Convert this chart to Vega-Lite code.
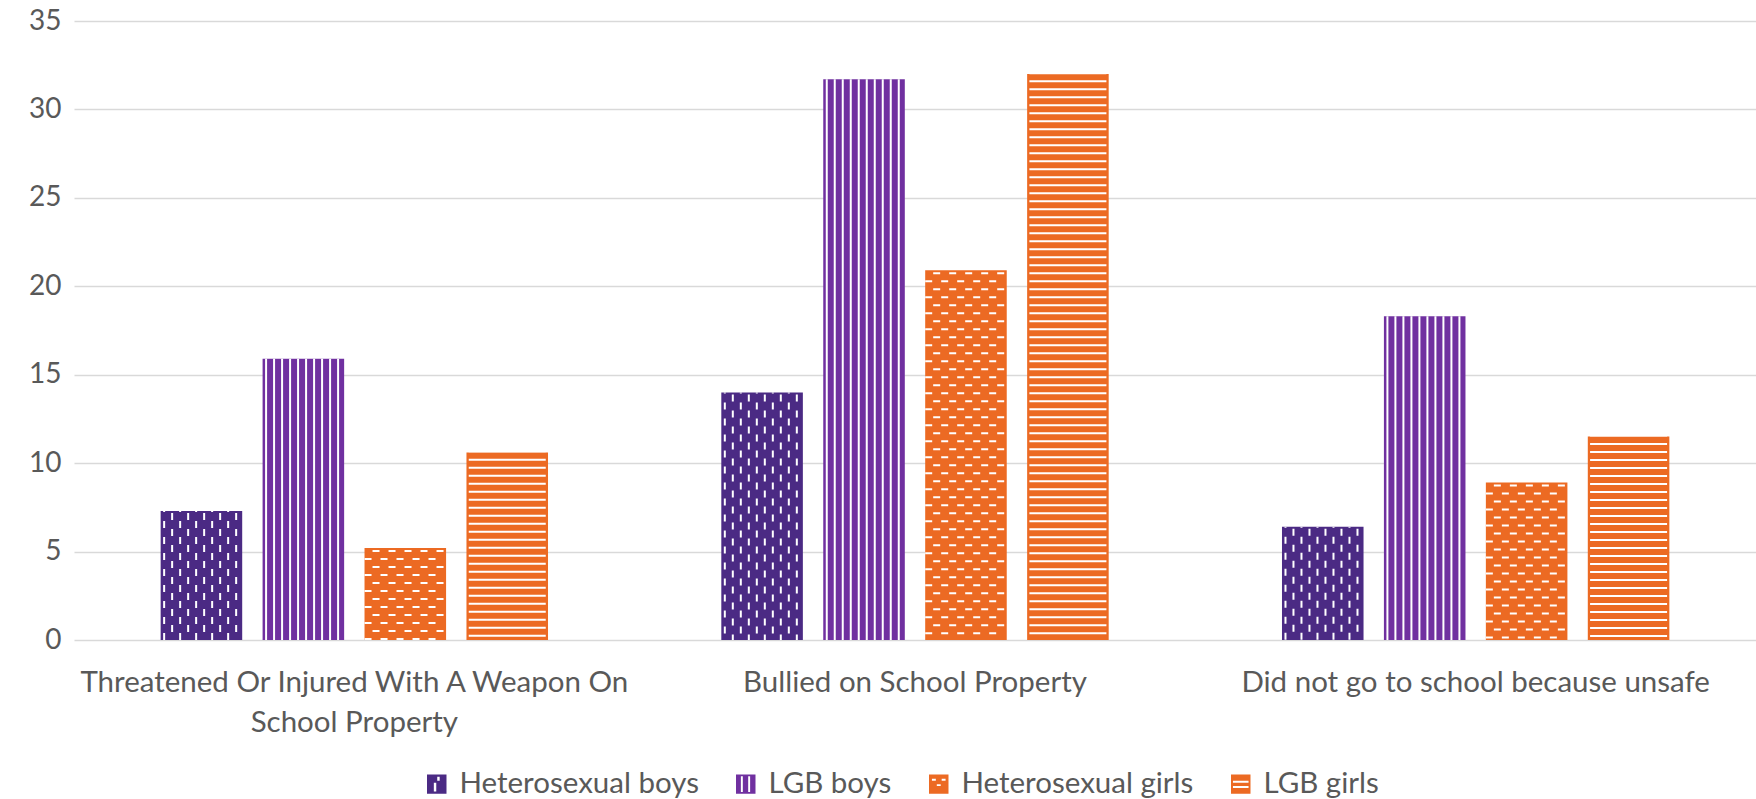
{
  "$schema": "https://vega.github.io/schema/vega-lite/v6.json",
  "width": 1682,
  "height": 619,
  "autosize": {"type": "none"},
  "padding": {"left": 74, "top": 21, "right": 0, "bottom": 159},
  "background": "white",
  "config": {"view": {"stroke": null}, "font": "Lato"},
  "data": {
    "values": [
      {"category": "Threatened Or Injured With A Weapon On School Property", "series": "Heterosexual boys", "value": 7.3},
      {"category": "Threatened Or Injured With A Weapon On School Property", "series": "LGB boys", "value": 15.9},
      {"category": "Threatened Or Injured With A Weapon On School Property", "series": "Heterosexual girls", "value": 5.2},
      {"category": "Threatened Or Injured With A Weapon On School Property", "series": "LGB girls", "value": 10.6},
      {"category": "Bullied on School Property", "series": "Heterosexual boys", "value": 14.0},
      {"category": "Bullied on School Property", "series": "LGB boys", "value": 31.7},
      {"category": "Bullied on School Property", "series": "Heterosexual girls", "value": 20.9},
      {"category": "Bullied on School Property", "series": "LGB girls", "value": 32.0},
      {"category": "Did not go to school because unsafe", "series": "Heterosexual boys", "value": 6.4},
      {"category": "Did not go to school because unsafe", "series": "LGB boys", "value": 18.3},
      {"category": "Did not go to school because unsafe", "series": "Heterosexual girls", "value": 8.9},
      {"category": "Did not go to school because unsafe", "series": "LGB girls", "value": 11.5}
    ]
  },
  "resolve": {"scale": {"xOffset": "independent"}},
  "encoding": {
    "x": {
      "field": "category", "type": "nominal", "sort": null, "title": null,
      "scale": {"paddingInner": 0, "paddingOuter": 0},
      "axis": {
        "orient": "bottom", "domain": false, "ticks": false, "grid": false,
        "labelAngle": 0, "labelFont": "Lato", "labelFontSize": 29.5, "labelColor": "#595959",
        "labelPadding": 28, "labelBaseline": "top", "labelLineHeight": 40, "labelLimit": 0,
        "labelExpr": "datum.value === 'Threatened Or Injured With A Weapon On School Property' ? ['Threatened Or Injured With A Weapon On', 'School Property'] : datum.value"
      }
    },
    "xOffset": {
      "field": "series", "type": "nominal",
      "scale": {"domain": ["Heterosexual boys", "LGB boys", "Heterosexual girls", "LGB girls"], "paddingInner": 0.2, "paddingOuter": 0.85}
    },
    "y": {
      "field": "value", "type": "quantitative", "title": null,
      "scale": {"domain": [0, 35], "nice": false},
      "axis": {
        "domain": false, "ticks": false, "values": [0, 5, 10, 15, 20, 25, 30, 35],
        "gridColor": "#d9d9d9", "gridWidth": 1.5,
        "labelFont": "Lato", "labelFontSize": 28, "labelColor": "#595959", "labelPadding": 13
      }
    }
  },
  "layer": [
    {
      "mark": {"type": "bar", "strokeWidth": 1},
      "encoding": {
        "color": {
          "condition": [
            {"test": "datum.series === 'Heterosexual boys'", "value": "#4b2a84"},
            {"test": "datum.series === 'LGB boys'", "value": "#7030a0"}
          ],
          "value": "#ec6a23"
        }
      }
    },
    {
      "transform": [{"filter": "datum.series === 'LGB girls'"}],
      "mark": {"type": "rule", "color": "white", "strokeWidth": 77, "strokeDash": [2, 6], "strokeDashOffset": 1.7},
      "encoding": {"y2": {"datum": 0}}
    },
    {
      "transform": [{"filter": "datum.series !== 'LGB girls'"}],
      "resolve": {"scale": {"xOffset": "independent"}},
      "encoding": {
        "y2": {"datum": 0},
        "strokeWidth": {"condition": {"test": "datum.series === 'Heterosexual girls'", "value": 7}, "value": 2},
        "strokeDash": {"condition": [{"test": "datum.series === 'Heterosexual girls'", "value": [2, 14]}, {"test": "datum.series === 'Heterosexual boys'", "value": [7, 9]}], "value": [1, 0]}
      },
      "layer": [
        {"mark": {"type": "rule", "color": "white", "strokeDashOffset": 6}, "encoding": {"xOffset": {"field": "series", "type": "nominal", "scale": {"domain": ["Heterosexual boys", "LGB boys", "Heterosexual girls", "LGB girls"], "paddingInner": 0.2, "paddingOuter": 0.85, "align": 0.2849}}}},
        {"mark": {"type": "rule", "color": "white", "strokeDashOffset": 14}, "encoding": {"xOffset": {"field": "series", "type": "nominal", "scale": {"domain": ["Heterosexual boys", "LGB boys", "Heterosexual girls", "LGB girls"], "paddingInner": 0.2, "paddingOuter": 0.85, "align": 0.3310}}}},
        {"mark": {"type": "rule", "color": "white", "strokeDashOffset": 6}, "encoding": {"xOffset": {"field": "series", "type": "nominal", "scale": {"domain": ["Heterosexual boys", "LGB boys", "Heterosexual girls", "LGB girls"], "paddingInner": 0.2, "paddingOuter": 0.85, "align": 0.3772}}}},
        {"mark": {"type": "rule", "color": "white", "strokeDashOffset": 14}, "encoding": {"xOffset": {"field": "series", "type": "nominal", "scale": {"domain": ["Heterosexual boys", "LGB boys", "Heterosexual girls", "LGB girls"], "paddingInner": 0.2, "paddingOuter": 0.85, "align": 0.4234}}}},
        {"mark": {"type": "rule", "color": "white", "strokeDashOffset": 6}, "encoding": {"xOffset": {"field": "series", "type": "nominal", "scale": {"domain": ["Heterosexual boys", "LGB boys", "Heterosexual girls", "LGB girls"], "paddingInner": 0.2, "paddingOuter": 0.85, "align": 0.4695}}}},
        {"mark": {"type": "rule", "color": "white", "strokeDashOffset": 14}, "encoding": {"xOffset": {"field": "series", "type": "nominal", "scale": {"domain": ["Heterosexual boys", "LGB boys", "Heterosexual girls", "LGB girls"], "paddingInner": 0.2, "paddingOuter": 0.85, "align": 0.5157}}}},
        {"mark": {"type": "rule", "color": "white", "strokeDashOffset": 6}, "encoding": {"xOffset": {"field": "series", "type": "nominal", "scale": {"domain": ["Heterosexual boys", "LGB boys", "Heterosexual girls", "LGB girls"], "paddingInner": 0.2, "paddingOuter": 0.85, "align": 0.5619}}}},
        {"mark": {"type": "rule", "color": "white", "strokeDashOffset": 14}, "encoding": {"xOffset": {"field": "series", "type": "nominal", "scale": {"domain": ["Heterosexual boys", "LGB boys", "Heterosexual girls", "LGB girls"], "paddingInner": 0.2, "paddingOuter": 0.85, "align": 0.6080}}}},
        {"mark": {"type": "rule", "color": "white", "strokeDashOffset": 6}, "encoding": {"xOffset": {"field": "series", "type": "nominal", "scale": {"domain": ["Heterosexual boys", "LGB boys", "Heterosexual girls", "LGB girls"], "paddingInner": 0.2, "paddingOuter": 0.85, "align": 0.6542}}}},
        {"mark": {"type": "rule", "color": "white", "strokeDashOffset": 14}, "encoding": {"xOffset": {"field": "series", "type": "nominal", "scale": {"domain": ["Heterosexual boys", "LGB boys", "Heterosexual girls", "LGB girls"], "paddingInner": 0.2, "paddingOuter": 0.85, "align": 0.7004}}}}
      ]
    },
    {
      "mark": {"type": "point", "filled": true, "opacity": 0},
      "encoding": {
        "color": {
          "field": "series", "type": "nominal",
          "scale": {"domain": ["Heterosexual boys", "LGB boys", "Heterosexual girls", "LGB girls"], "range": ["#4b2a84", "#7030a0", "#ec6a23", "#ec6a23"]},
          "legend": {
            "title": null, "orient": "none", "legendX": 348, "legendY": 748, "direction": "horizontal", "columns": 4,
            "columnPadding": 32, "symbolSize": 380, "symbolStrokeWidth": 0, "symbolOpacity": 1, "labelOffset": 8,
            "labelFont": "Lato", "labelFontSize": 29.5, "labelColor": "#595959", "labelLimit": 0
          }
        },
        "shape": {
          "field": "series", "type": "nominal",
          "scale": {
            "domain": ["Heterosexual boys", "LGB boys", "Heterosexual girls", "LGB girls"],
            "range": [
              "M-1,-1H1V1H-1Z M0.05,-0.75V-0.35H0.3V-0.75Z M-0.3,-0.15V0.75H-0.05V-0.15Z",
              "M-1,-1H1V1H-1Z M-0.5,-0.8V0.8H-0.3V-0.8Z M0.25,-0.8V0.8H0.45V-0.8Z",
              "M-1,-1H1V1H-1Z M-0.7,-0.55V-0.35H-0.3V-0.55Z M0.3,-0.55V-0.35H0.7V-0.55Z M-0.2,0V0.2H0.2V0Z",
              "M-1,-1H1V1H-1Z M-0.8,-0.35V-0.15H0.8V-0.35Z M-0.8,0.2V0.4H0.8V0.2Z"
            ]
          },
          "legend": {
            "title": null, "orient": "none", "legendX": 348, "legendY": 748, "direction": "horizontal", "columns": 4,
            "columnPadding": 32, "symbolSize": 380, "symbolStrokeWidth": 0, "symbolOpacity": 1, "labelOffset": 8,
            "labelFont": "Lato", "labelFontSize": 29.5, "labelColor": "#595959", "labelLimit": 0
          }
        }
      }
    }
  ]
}
